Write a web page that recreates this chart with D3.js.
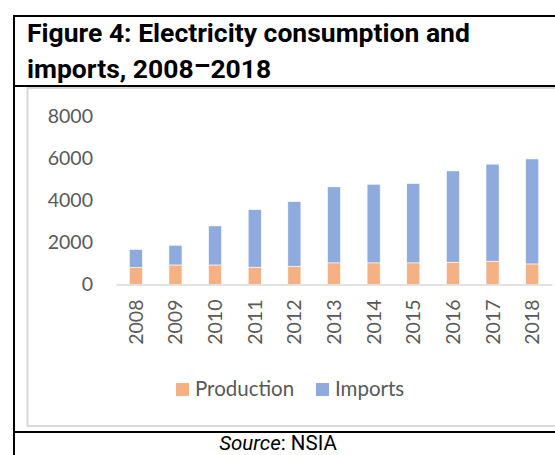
<!DOCTYPE html>
<html><head><meta charset="utf-8">
<script src="https://cdn.jsdelivr.net/npm/d3@7"></script>
<style>
html,body{margin:0;padding:0;background:#fff;}
svg{display:block;}
</style></head>
<body>
<svg id="c" width="555" height="455"></svg>
<script>
const years = ["2008","2009","2010","2011","2012","2013","2014","2015","2016","2017","2018"];
const production = [810, 930, 930, 825, 870, 1030, 1030, 1030, 1060, 1110, 980];
const imports = [857, 940, 1860, 2745, 3080, 3620, 3745, 3780, 4350, 4620, 5000];
const yTicks = [0, 2000, 4000, 6000, 8000];
const seriesNames = ["Production", "Imports"];
const colors = ["#F4B183", "#8FAADC"];

const svg = d3.select("#c");

// frame
svg.append("line").attr("x1",14).attr("x2",14).attr("y1",15).attr("y2",455).attr("stroke","#000").attr("stroke-width",2);
svg.append("line").attr("x1",13).attr("x2",555).attr("y1",16).attr("y2",16).attr("stroke","#000").attr("stroke-width",2);
svg.append("line").attr("x1",13).attr("x2",555).attr("y1",86).attr("y2",86).attr("stroke","#000").attr("stroke-width",2);
svg.append("line").attr("x1",13).attr("x2",555).attr("y1",432).attr("y2",432).attr("stroke","#000").attr("stroke-width",2);
// chart area grey box
svg.append("rect").attr("x",27.5).attr("y",88).attr("width",540).attr("height",338).attr("fill","none").attr("stroke","#d9d9d9").attr("stroke-width",2);

// title
const title = svg.append("text").attr("font-family","Roboto").attr("font-weight","bold").attr("font-size",26.5).attr("fill","#000");
title.append("tspan").attr("x",27).attr("y",42).text("Figure 4: Electricity consumption and");
const t2 = title.append("tspan").attr("x",27).attr("y",78);
t2.append("tspan").text("imports, 2008");
t2.append("tspan").attr("dy",-3).text("\u2013");
t2.append("tspan").attr("dy",3).text("2018");

// source
const src = svg.append("text").attr("x",278).attr("y",450).attr("text-anchor","middle").attr("font-family","Roboto").attr("font-size",20.5).attr("fill","#000");
src.append("tspan").attr("font-style","italic").text("Source");
src.append("tspan").text(": NSIA");

// scales
const x = d3.scaleBand().domain(years).range([116, 552]).paddingInner(0.67).paddingOuter(0.335);
const y = d3.scaleLinear().domain([0, 8000]).range([284.5, 116.5]);

const data = years.map((yr,i)=>({year:yr, Production:production[i], Imports:imports[i]}));
const stack = d3.stack().keys(seriesNames)(data);

const g = svg.append("g");
g.selectAll("g.s").data(stack).join("g").attr("fill",(d,i)=>colors[i])
  .selectAll("rect").data(d=>d).join("rect")
  .attr("x",d=>x(d.data.year)).attr("width",x.bandwidth())
  .attr("y",d=>y(d[1])).attr("height",d=>y(d[0])-y(d[1]))
  .attr("stroke","#fff").attr("stroke-width",0.6);

// y axis
const yAxis = svg.append("g").attr("transform","translate(93,0)")
  .call(d3.axisLeft(y).tickValues(yTicks).tickSize(0).tickPadding(0).tickFormat(d3.format("d")));
yAxis.select(".domain").remove();
yAxis.selectAll("text").attr("font-family","Lato, 'Open Sans', sans-serif").attr("font-size",19.5).attr("fill","#595959");

// x axis
const xAxis = svg.append("g").attr("transform","translate(0,284.5)")
  .call(d3.axisBottom(x).tickSize(0).tickPadding(0));
xAxis.select(".domain").attr("stroke","#d9d9d9").attr("stroke-width",1.5);
xAxis.selectAll(".tick text")
  .attr("font-family","Lato, 'Open Sans', sans-serif").attr("font-size",19.5).attr("fill","#595959")
  .attr("text-anchor","end").attr("transform","rotate(-90)")
  .attr("x",-15).attr("y",7).attr("dy",0);

// legend
const leg = svg.append("g");
const legX = [176, 316];
seriesNames.forEach((n,i)=>{
  leg.append("rect").attr("x",legX[i]).attr("y",383).attr("width",13).attr("height",13).attr("fill",colors[i]);
  leg.append("text").attr("x",legX[i]+19).attr("y",396).attr("font-family","Lato, 'Open Sans', sans-serif").attr("font-size",20.5).attr("fill","#595959").text(n);
});
</script>
</body></html>
